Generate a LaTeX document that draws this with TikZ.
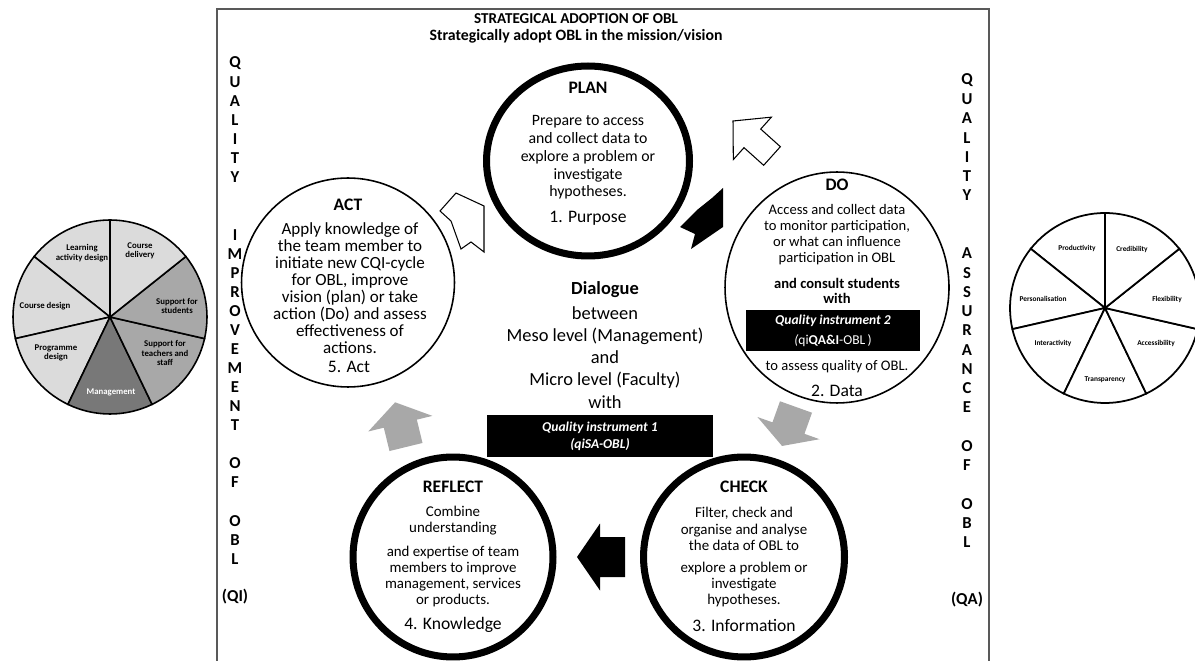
\documentclass[tikz,border=0pt]{standalone}
\usepackage{fontspec}
\setmainfont{Carlito}
\usetikzlibrary{shapes.geometric}

\definecolor{lightsec}{gray}{0.86}
\definecolor{midsec}{gray}{0.66}
\definecolor{darksec}{gray}{0.47}
\definecolor{greyarrow}{gray}{0.66}
\definecolor{framegrey}{gray}{0.35}

% block arrow: style, tail, angle, length, shaft width, head width, head length
\newcommand{\blockarrow}[7]{%
  \draw[#1, shift={(#2)}, rotate=#3]
    (0,{-#5/2}) -- ({#4-#7},{-#5/2}) -- ({#4-#7},{-#6/2}) -- (#4,0)
    -- ({#4-#7},{#6/2}) -- ({#4-#7},{#5/2}) -- (0,{#5/2}) -- cycle;}

\begin{document}
\begin{tikzpicture}[x=0.02cm, y=-0.02cm,
  phase/.style={shape=ellipse, draw=black, inner sep=0pt},
  boldphase/.style={phase, line width=4pt},
  thinphase/.style={phase, line width=0.9pt},
  phasehead/.style={font=\fontsize{10}{12}\selectfont\bfseries},
  phasenum/.style={font=\fontsize{10}{12}\selectfont},
  qbox/.style={fill=black, text=white, inner sep=0pt, align=center},
  sideletter/.style={font=\fontsize{9.5}{11}\selectfont\bfseries},
  pielabel/.style={align=center, font=\fontsize{5}{5.4}\selectfont\bfseries},
  qlabel/.style={font=\fontsize{4.2}{5}\selectfont\bfseries}]

  \useasboundingbox (0,0) rectangle (1195,661);

  % frame and heading
  \draw[framegrey, line width=0.7pt] (217,661) -- (217,9) -- (989,9) -- (989,661);
  \node[font=\fontsize{8.6}{11}\selectfont\bfseries, anchor=base] (title) at (576,24) {STRATEGICAL ADOPTION OF OBL};
  \node[font=\fontsize{9}{11}\selectfont\bfseries, anchor=base] (subtitle) at (576,41) {Strategically adopt OBL in the mission/vision};

  % side columns
  \foreach \i/\ch in {0/Q,1/U,2/A,3/L,4/I,5/T,6/Y,9/I,10/M,11/P,12/R,13/O,14/V,15/E,16/M,17/E,18/N,19/T,21/O,22/F,24/O,25/B,26/L,28/{(QI)}}
    \node[sideletter] (ql\i) at (235,{63+\i*19.07}) {\ch};
  \foreach \i/\ch in {0/Q,1/U,2/A,3/L,4/I,5/T,6/Y,9/A,10/S,11/S,12/U,13/R,14/A,15/N,16/C,17/E,19/O,20/F,22/O,23/B,24/L,27/{(QA)}}
    \node[sideletter] (qa\i) at (967,{80+\i*19.26}) {\ch};

  % the five phases
  \node[boldphase, minimum width=4.06cm, minimum height=3.8cm] (plan) at (588,161) {};
  \node[thinphase, minimum width=4.48cm, minimum height=4.62cm] (do) at (837,287.5) {};
  \node[boldphase, minimum width=4.02cm, minimum height=4cm] (check) at (744,557) {};
  \node[boldphase, minimum width=4cm, minimum height=4cm] (reflect) at (453,557) {};
  \node[thinphase, minimum width=4.26cm, minimum height=4.18cm] (act) at (348,282.5) {};

  \node[phasehead] (planhead) at (588,88) {PLAN};
  \node[align=center, font=\fontsize{9}{10.1}\selectfont] (planbody) at (588,157.5)
    {Prepare to access\\and collect data to\\explore a problem or\\investigate\\hypotheses.};
  \node[phasenum] (plannum) at (588,218) {1. Purpose};

  \node[phasehead] (dohead) at (837,185) {DO};
  \node[align=center, font=\fontsize{8.3}{9.2}\selectfont] (dobody) at (837,234.5)
    {Access and collect data\\to monitor participation,\\or what can influence\\participation in OBL};
  \node[align=center, font=\fontsize{8.3}{8.6}\selectfont\bfseries] (doconsult) at (837,290.5) {and consult students\\with};
  \node[qbox, minimum width=3.48cm, minimum height=0.82cm, font=\fontsize{7.7}{11.3}\selectfont] (instr2) at (833,330.5)
    {\textbf{\textit{Quality instrument 2}}\\\textit{(}qi\textbf{QA\&I}-OBL\,)};
  \node[font=\fontsize{8.3}{9.2}\selectfont] (doassess) at (837,367) {to assess quality of OBL.};
  \node[phasenum] (donum) at (837,391) {2. Data};

  \node[phasehead] (checkhead) at (744,487) {CHECK};
  \node[align=center, font=\fontsize{8.5}{9.2}\selectfont] (checktop) at (744,529)
    {Filter, check and\\organise and analyse\\the data of OBL to};
  \node[align=center, font=\fontsize{8.5}{9.2}\selectfont] (checkbot) at (744,584.5)
    {explore a problem or\\investigate\\hypotheses.};
  \node[phasenum] (checknum) at (744,625) {3. Information};

  \node[phasehead] (reflhead) at (453,487) {REFLECT};
  \node[align=center, font=\fontsize{8.5}{9.2}\selectfont] (refltop) at (453,520.5) {Combine\\understanding};
  \node[align=center, font=\fontsize{8.5}{9.2}\selectfont] (reflbot) at (453,576.5)
    {and expertise of team\\members to improve\\management, services\\or products.};
  \node[phasenum] (reflnum) at (453,625) {4. Knowledge};

  \node[phasehead] (acthead) at (348,205) {ACT};
  \node[align=center, font=\fontsize{9.7}{9.7}\selectfont] (actbody) at (350,288.5)
    {Apply knowledge of\\the team member to\\initiate new CQI-cycle\\for OBL, improve\\vision (plan) or take\\action (Do) and assess\\effectiveness of\\actions.};
  \node[phasenum] (actnum) at (349,367) {5. Act};

  % dialogue in the middle
  \node[font=\fontsize{10.5}{12.6}\selectfont\bfseries] (dialogue) at (605,290) {Dialogue};
  \node[align=center, font=\fontsize{10.5}{12.6}\selectfont] (levels) at (605,357.5)
    {between\\Meso level (Management)\\and\\Micro level (Faculty)\\with};
  \node[qbox, minimum width=4.52cm, minimum height=0.84cm, font=\fontsize{7.7}{9.6}\selectfont\bfseries\itshape] (instr1) at (600,436)
    {Quality instrument 1\\(qiSA-OBL)};

  % block arrows of the cycle
  \blockarrow{fill=greyarrow, draw=none}{406,447}{103.7}{46}{34}{66}{22}
  \blockarrow{fill=greyarrow, draw=none}{796,407}{-109.7}{41.4}{34}{66}{19}
  \blockarrow{fill=black, draw=none}{625,557}{180}{48}{40}{67}{23}
  \blockarrow{fill=white, draw=black, line width=0.6pt}{772,156}{138.1}{52.4}{25}{57}{26}
  \fill[black] (680,227) -- (697,210) -- (712,198) -- (723,188) -- (723,227) -- (691,249) -- (695,234) -- cycle;
  \filldraw[fill=white, draw=black, line width=0.6pt] (456,193) -- (484,206) -- (484,252) -- (471,242)
    -- (461,249) -- (451,221) -- (440,211) -- cycle;

  % left pie: areas
  \begin{scope}[shift={(110,317)}, x=0.02cm, y=0.02cm]
    \foreach \a/\c in {90/lightsec,141.43/lightsec,192.86/lightsec,244.29/darksec,295.71/midsec,347.14/midsec,398.57/lightsec}
      \filldraw[fill=\c, draw=black, line width=0.9pt] (0,0) -- (\a:97) arc[start angle=\a, end angle=\a+51.43, radius=97] -- cycle;
  \end{scope}
  \node[pielabel] (lad) at (82,253) {Learning\\activity design};
  \node[pielabel] (cdel) at (140,251) {Course\\delivery};
  \node[pielabel] (cdes) at (45,306) {Course design};
  \node[pielabel] (sst) at (177,306) {Support for\\students};
  \node[pielabel] (pdes) at (56,353) {Programme\\design};
  \node[pielabel] (stf) at (165,353) {Support for\\teachers and\\staff};
  \node[pielabel, text=white] (mgmt) at (111,392) {Management};

  % right pie: qualities
  \begin{scope}[shift={(1105,308)}, x=0.02cm, y=0.02cm]
    \foreach \a in {90,141.43,192.86,244.29,295.71,347.14,398.57}
      \filldraw[fill=white, draw=black, line width=1pt] (0,0) -- (\a:95) arc[start angle=\a, end angle=\a+51.43, radius=95] -- cycle;
  \end{scope}
  \node[qlabel] (prod) at (1077,248) {Productivity};
  \node[qlabel] (cred) at (1132,249) {Credibility};
  \node[qlabel] (flex) at (1167,299) {Flexibility};
  \node[qlabel] (pers) at (1043,299) {Personalisation};
  \node[qlabel] (inter) at (1053,343) {Interactivity};
  \node[qlabel] (acc) at (1156,343) {Accessibility};
  \node[qlabel] (trans) at (1105,380) {Transparency};
\end{tikzpicture}
\end{document}
